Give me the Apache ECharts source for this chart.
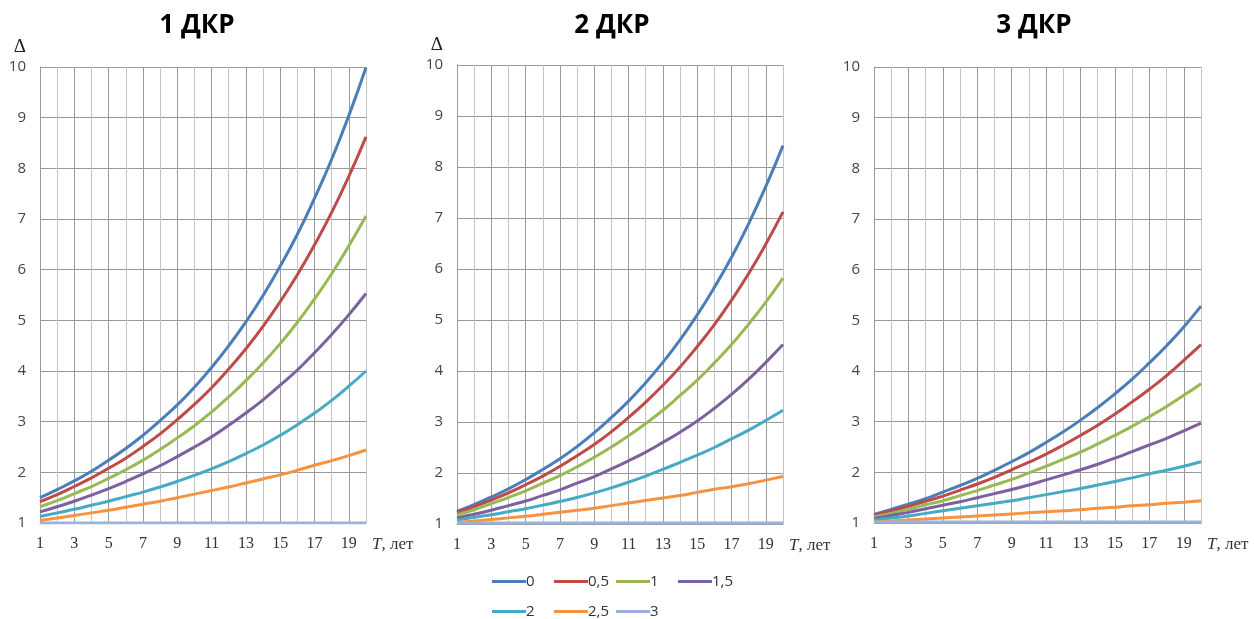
<!DOCTYPE html>
<html lang="ru">
<head>
    <meta charset="UTF-8">
    <title>ДКР</title>
    <style>
        * { box-sizing: border-box; margin: 0; padding: 0; }
        body { background: #fff; }
        #chart { width: 1254px; height: 619px; }
    </style>
    <script src="https://cdn.jsdelivr.net/npm/echarts@6.0.0/dist/echarts.min.js"></script>
</head>
<body>
    <div id="chart"></div>

    <script>
        // годы (ось X)
        const years = ['1','2','3','4','5','6','7','8','9','10','11','12','13','14','15','16','17','18','19','20'];
        const seriesNames = ['0', '0,5', '1', '1,5', '2', '2,5', '3'];
        const panelTitles = ['1 ДКР', '2 ДКР', '3 ДКР'];

        // 1 ДКР
        const d1_0  = [1.50, 1.66, 1.83, 2.02, 2.24, 2.47, 2.73, 3.02, 3.33, 3.68, 4.07, 4.50, 4.97, 5.49, 6.07, 6.70, 7.41, 8.18, 9.04, 9.99];
        const d1_05 = [1.42, 1.56, 1.72, 1.89, 2.08, 2.28, 2.51, 2.76, 3.04, 3.34, 3.67, 4.04, 4.44, 4.88, 5.37, 5.90, 6.49, 7.13, 7.84, 8.62];
        const d1_1  = [1.32, 1.44, 1.58, 1.72, 1.88, 2.05, 2.24, 2.45, 2.68, 2.92, 3.19, 3.49, 3.81, 4.16, 4.54, 4.96, 5.42, 5.92, 6.47, 7.06];
        const d1_15 = [1.22, 1.32, 1.43, 1.55, 1.68, 1.82, 1.97, 2.13, 2.31, 2.50, 2.70, 2.93, 3.17, 3.43, 3.72, 4.02, 4.36, 4.72, 5.11, 5.53];
        const d1_2  = [1.13, 1.20, 1.27, 1.35, 1.43, 1.52, 1.61, 1.71, 1.82, 1.94, 2.07, 2.21, 2.37, 2.54, 2.73, 2.94, 3.17, 3.42, 3.70, 4.00];
        const d1_25 = [1.05, 1.10, 1.15, 1.20, 1.25, 1.31, 1.37, 1.43, 1.50, 1.57, 1.64, 1.71, 1.79, 1.87, 1.95, 2.04, 2.14, 2.23, 2.33, 2.44];
        const d1_3  = [1.00, 1.00, 1.00, 1.00, 1.00, 1.00, 1.00, 1.00, 1.00, 1.00, 1.00, 1.00, 1.00, 1.00, 1.00, 1.00, 1.00, 1.00, 1.00, 1.00];

        // 2 ДКР
        const d2_0  = [1.25, 1.38, 1.53, 1.69, 1.87, 2.07, 2.28, 2.52, 2.79, 3.09, 3.41, 3.77, 4.17, 4.61, 5.10, 5.64, 6.23, 6.89, 7.62, 8.42];
        const d2_05 = [1.22, 1.34, 1.47, 1.61, 1.77, 1.94, 2.13, 2.34, 2.56, 2.81, 3.09, 3.39, 3.72, 4.08, 4.48, 4.91, 5.39, 5.91, 6.49, 7.12];
        const d2_1  = [1.18, 1.28, 1.40, 1.52, 1.65, 1.80, 1.95, 2.12, 2.31, 2.51, 2.73, 2.97, 3.23, 3.52, 3.82, 4.16, 4.52, 4.92, 5.35, 5.82];
        const d2_15 = [1.12, 1.19, 1.27, 1.36, 1.45, 1.56, 1.67, 1.80, 1.93, 2.08, 2.24, 2.41, 2.60, 2.80, 3.02, 3.27, 3.54, 3.84, 4.17, 4.52];
        const d2_2  = [1.08, 1.13, 1.18, 1.24, 1.30, 1.37, 1.44, 1.52, 1.61, 1.71, 1.82, 1.94, 2.07, 2.21, 2.35, 2.50, 2.67, 2.84, 3.03, 3.23];
        const d2_25 = [1.03, 1.06, 1.09, 1.12, 1.15, 1.19, 1.23, 1.27, 1.31, 1.36, 1.41, 1.46, 1.51, 1.56, 1.62, 1.68, 1.73, 1.79, 1.86, 1.93];
        const d2_3  = [1.02, 1.02, 1.02, 1.02, 1.02, 1.02, 1.02, 1.02, 1.02, 1.02, 1.02, 1.02, 1.02, 1.02, 1.02, 1.02, 1.02, 1.02, 1.02, 1.02];

        // 3 ДКР
        const d3_0  = [1.17, 1.27, 1.37, 1.48, 1.61, 1.74, 1.88, 2.04, 2.21, 2.39, 2.59, 2.80, 3.03, 3.28, 3.55, 3.84, 4.16, 4.50, 4.87, 5.28];
        const d3_05 = [1.15, 1.24, 1.33, 1.43, 1.53, 1.65, 1.77, 1.90, 2.05, 2.20, 2.36, 2.54, 2.73, 2.93, 3.15, 3.39, 3.64, 3.91, 4.21, 4.52];
        const d3_1  = [1.12, 1.19, 1.27, 1.36, 1.44, 1.54, 1.64, 1.75, 1.86, 1.99, 2.12, 2.26, 2.40, 2.56, 2.73, 2.91, 3.10, 3.30, 3.52, 3.75];
        const d3_15 = [1.09, 1.15, 1.21, 1.28, 1.35, 1.42, 1.50, 1.58, 1.66, 1.75, 1.85, 1.95, 2.05, 2.16, 2.28, 2.41, 2.54, 2.67, 2.82, 2.97];
        const d3_2  = [1.06, 1.10, 1.14, 1.19, 1.24, 1.29, 1.34, 1.39, 1.44, 1.50, 1.56, 1.62, 1.68, 1.75, 1.82, 1.89, 1.97, 2.04, 2.12, 2.21];
        const d3_25 = [1.02, 1.04, 1.06, 1.08, 1.10, 1.12, 1.14, 1.16, 1.18, 1.20, 1.22, 1.24, 1.26, 1.29, 1.31, 1.34, 1.36, 1.39, 1.41, 1.44];
        const d3_3  = [1.02, 1.02, 1.02, 1.02, 1.02, 1.02, 1.02, 1.02, 1.02, 1.02, 1.02, 1.02, 1.02, 1.02, 1.02, 1.02, 1.02, 1.02, 1.02, 1.02];

        const panels = [
            [d1_0, d1_05, d1_1, d1_15, d1_2, d1_25, d1_3],
            [d2_0, d2_05, d2_1, d2_15, d2_2, d2_25, d2_3],
            [d3_0, d3_05, d3_1, d3_15, d3_2, d3_25, d3_3]
        ];

        const colors = ['#4A7EBB', '#BE4B48', '#98B954', '#7D60A0', '#46AAC5', '#F69240', '#9BB2D8'];

        // положение трёх графиков
        const grids = [
            { left: 40,  top: 67, width: 326, height: 456 },
            { left: 457, top: 65, width: 326, height: 459 },
            { left: 874, top: 67, width: 327, height: 456 }
        ];
        const titleX = [197, 612, 1034];

        const sansFont = '"Open Sans", "Noto Sans", sans-serif';
        const serifFont = '"Liberation Serif", "DejaVu Serif", serif';

        const xAxes = [], yAxes = [], series = [], titles = [];
        grids.forEach((g, i) => {
            titles.push({
                text: panelTitles[i],
                left: titleX[i], top: 13, padding: 0,
                textAlign: 'center',
                textStyle: { fontFamily: sansFont, fontWeight: 'bold', fontSize: 26, color: '#000' }
            });
            xAxes.push({
                type: 'category', gridIndex: i, data: years, boundaryGap: false,
                name: '{t|T}, лет', nameLocation: 'end', nameGap: 6,
                nameTextStyle: {
                    fontFamily: serifFont, fontSize: 17, color: '#333',
                    align: 'left', verticalAlign: 'top', padding: [13, 0, 0, 0],
                    rich: { t: { fontFamily: serifFont, fontStyle: 'italic', fontSize: 17, color: '#333' } }
                },
                axisLine: { lineStyle: { color: '#9a9a9a' } },
                axisTick: { show: false },
                axisLabel: { interval: 1, margin: 13, fontFamily: serifFont, fontSize: 16, color: '#333' },
                splitLine: { show: true, interval: 0, lineStyle: { color: ['#9a9a9a', '#c4c4c4'], width: 1 } }
            });
            yAxes.push({
                type: 'value', gridIndex: i, min: 1, max: 10, interval: 1,
                name: i < 2 ? 'Δ' : '', nameLocation: 'end', nameGap: 10,
                nameTextStyle: { fontFamily: serifFont, fontSize: 19, color: '#222', align: 'right', padding: [0, 14, 0, 0] },
                axisLine: { show: true, lineStyle: { color: '#9a9a9a' } },
                axisTick: { show: false },
                axisLabel: { margin: 14, fontFamily: sansFont, fontSize: 15, color: '#444' },
                splitLine: { lineStyle: { color: '#9a9a9a' } }
            });
            panels[i].forEach((vals, k) => {
                series.push({
                    name: seriesNames[k], type: 'line', xAxisIndex: i, yAxisIndex: i,
                    data: vals, smooth: true, showSymbol: false,
                    lineStyle: { width: 3, color: colors[k] },
                    itemStyle: { color: colors[k] }
                });
            });
        });

        // легенда: 4 колонки, 2 строки
        const legends = seriesNames.map((name, k) => ({
            data: [name],
            left: 492 + (k % 4) * 62,
            top: k < 4 ? 574 : 604,
            padding: 0,
            icon: 'rect', itemWidth: 34, itemHeight: 3,
            textStyle: { fontFamily: sansFont, fontSize: 15, color: '#333', padding: [0, 0, 0, -5] }
        }));

        const chart = echarts.init(document.getElementById('chart'));
        chart.setOption({
            animation: false,
            color: colors,
            title: titles,
            grid: grids,
            xAxis: xAxes,
            yAxis: yAxes,
            legend: legends,
            series: series
        });
    </script>
</body>
</html>
